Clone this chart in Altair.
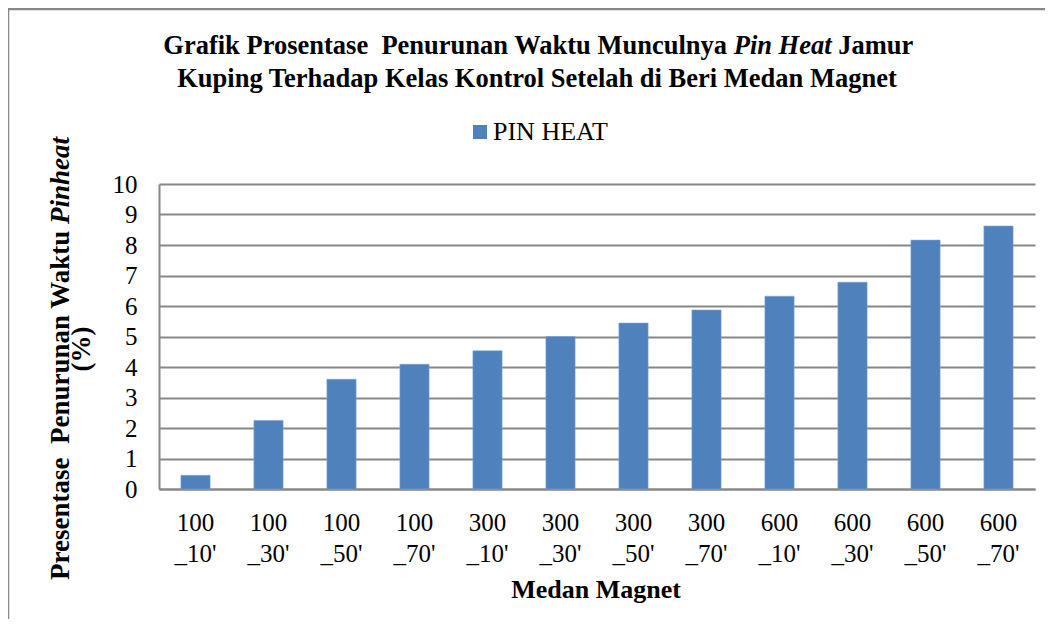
import altair as alt
import pandas as pd

# ---- data ----
categories = ["100 _10'", "100 _30'", "100 _50'", "100 _70'",
              "300 _10'", "300 _30'", "300 _50'", "300 _70'",
              "600 _10'", "600 _30'", "600 _50'", "600 _70'"]
values = [0.45, 2.25, 3.6, 4.09, 4.53, 5.0, 5.44, 5.87, 6.32, 6.78, 8.16, 8.62]
series = ["PIN HEAT"] * len(categories)
y_ticks = list(range(0, 11))

W, H = 876, 305
FONT = "Liberation Serif"
GRAY = "#878787"
BLUE = "#4F81BD"
NB = "\u00a0"

df = pd.DataFrame({"cat": categories, "val": values, "series": series})
one = pd.DataFrame({"a": [0]})

bars = alt.Chart(df).mark_bar(color=BLUE, stroke="#7fa3d3", strokeWidth=0.6).encode(
    x=alt.X("cat:N", sort=categories, title=None,
            scale=alt.Scale(paddingInner=0.6, paddingOuter=0.3),
            axis=alt.Axis(labelExpr="split(datum.value, ' ')", labelAngle=0,
                          labelFont=FONT, labelFontSize=25, labelColor="black",
                          labelBaseline="top", labelLineHeight=31, labelPadding=21,
                          ticks=False, domainColor=GRAY, domainWidth=2, grid=False)),
    y=alt.Y("val:Q", title=None,
            scale=alt.Scale(domain=[0, 10], nice=False),
            axis=alt.Axis(values=y_ticks, labelFont=FONT, labelFontSize=25,
                          labelColor="black", labelPadding=22, ticks=False,
                          domainColor=GRAY, domainWidth=2, gridColor=GRAY,
                          gridWidth=1.8, gridOpacity=1)),
    color=alt.Color("series:N", scale=alt.Scale(range=[BLUE]),
                    legend=alt.Legend(orient="none", legendX=308, legendY=-65,
                                      title=None, symbolType="square", symbolSize=196,
                                      symbolStrokeWidth=0, symbolOpacity=1,
                                      labelFont=FONT, labelFontSize=26,
                                      labelColor="black", labelOffset=0, padding=0)),
)

def txt(text, x, y, size=26, weight="bold", style="normal", align="left",
        angle=0, baseline="alphabetic"):
    return alt.Chart(one).mark_text(
        text=text, font=FONT, fontSize=size, fontWeight=weight, fontStyle=style,
        align=align, baseline=baseline, angle=angle, color="black"
    ).encode(x=alt.value(x), y=alt.value(y))

SP = 6.7  # width of a space at this size

# chart title (line 1 has an italic part)
t1a = txt(f"Grafik Prosentase{NB} Penurunan Waktu Munculnya", 574.7 - SP, -130,
          size=26.5, align="right")
t1b = txt("Pin Heat", 574.7, -130, size=26.5, style="italic")
t1c = txt("Jamur", 672.6 + SP, -130, size=26.5)
t2 = txt("Kuping Terhadap Kelas Kontrol Setelah di Beri Medan Magnet", 378, -97,
         size=26.5, align="center")

# y axis title (rotated, two lines)
ya = txt(f"Presentase{NB} Penurunan Waktu", -90, 40 + SP, size=27, align="right", angle=270)
yb = txt("Pinheat", -90, 40, size=27, style="italic", align="left", angle=270)
yc = txt("(%)", -69, 165, size=27, align="center", angle=270)

# x axis title
xt = txt("Medan Magnet", 437, 414, size=26, align="center")

# outer chart border
border = alt.Chart(one).mark_rect(fillOpacity=0, stroke=GRAY, strokeWidth=2.5).encode(
    x=alt.value(-151), x2=alt.value(W + 60),
    y=alt.value(-175), y2=alt.value(H + 200))

chart = alt.layer(border, bars, t1a, t1b, t1c, t2, ya, yb, yc, xt).properties(
    width=W, height=H,
    autosize=alt.AutoSizeParams(type="none"),
    padding={"left": 151, "top": 176, "right": 10, "bottom": 130},
    background="white",
).configure_view(stroke=None)

chart.save("out.html", embed_options={"renderer": "svg", "actions": False})
